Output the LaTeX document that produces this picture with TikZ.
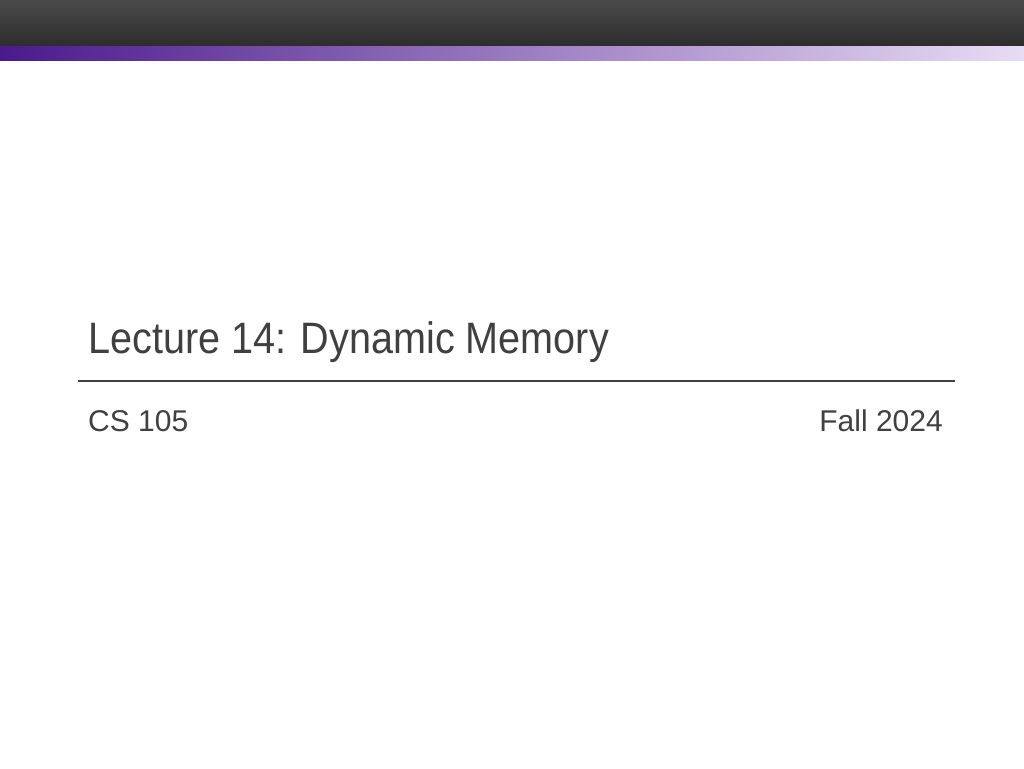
\documentclass[tikz,border=0pt]{standalone}
\usepackage{fontspec}
\setmainfont{Liberation Sans}
\definecolor{txt}{HTML}{404040}
\definecolor{barTop}{HTML}{4a4a4a}
\definecolor{barBot}{HTML}{2c2c2c}
\definecolor{purpL}{HTML}{4a1a8c}
\definecolor{purpM}{HTML}{9a6ad6}
\definecolor{purpR}{HTML}{e8dcf4}
\begin{document}
\begin{tikzpicture}[x=1pt,y=-1pt,
  txtstyle/.style={text=txt,inner sep=0pt,anchor=base west}]
\useasboundingbox (0,0) rectangle (1024,768);
\fill[white] (0,0) rectangle (1024,768);
\shade[top color=barTop,bottom color=barBot] (0,0) rectangle (1024,47);
\shade[left color=purpL,right color=purpR] (0,47) rectangle (1024,60);
\node[txtstyle,xscale=0.9] (title) at (88,353) {\fontsize{44}{50}\selectfont Lecture 14: Dynamic Memory};
\coordinate (l1) at (78,381);
\coordinate (l2) at (955,381);
\draw[txt,line width=1.5pt] (l1) -- (l2);
\node[txtstyle] (cs) at (88,431) {\fontsize{30}{36}\selectfont CS 105};
\node[txtstyle,anchor=base east] (fall) at (943,431) {\fontsize{30}{36}\selectfont Fall 2024};
\end{tikzpicture}
\end{document}
